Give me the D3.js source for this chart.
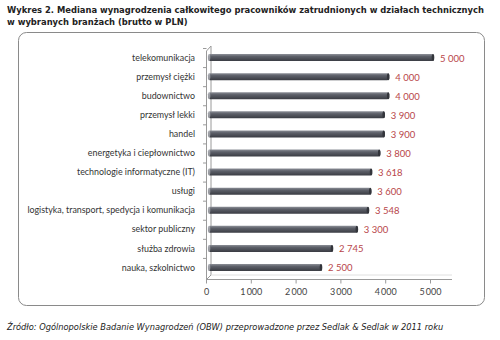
<!DOCTYPE html>
<html><head><meta charset="utf-8">
<script src="https://cdn.jsdelivr.net/npm/d3@7"></script>
<style>body{margin:0;background:#fff}svg{display:block}</style>
</head><body>
<svg id="c" width="500" height="340"></svg>
<script>
const categories = ["telekomunikacja","przemysł ciężki","budownictwo","przemysł lekki","handel","energetyka i ciepłownictwo","technologie informatyczne  (IT)","usługi","logistyka, transport, spedycja i komunikacja","sektor publiczny","służba zdrowia","nauka, szkolnictwo"];
const values = [5000,4000,4000,3900,3900,3800,3618,3600,3548,3300,2745,2500];
const ticks = [0,1000,2000,3000,4000,5000];
const titleLines = ["Wykres 2. Mediana wynagrodzenia całkowitego pracowników zatrudnionych w działach technicznych","w wybranych branżach (brutto w PLN)"];
const source = "Źródło: Ogólnopolskie Badanie Wynagrodzeń (OBW) przeprowadzone przez Sedlak & Sedlak w 2011 roku";

const svg = d3.select("#c");
const fmt = v => d3.format(",")(v).replace(/,/g, "\u2009");
const fmtLbl = v => d3.format(",")(v).replace(/,/g, " ");

// defs
const defs = svg.append("defs");
const g1 = defs.append("linearGradient").attr("id","bar").attr("x1",0).attr("y1",0).attr("x2",0).attr("y2",1);
g1.append("stop").attr("offset","0%").attr("stop-color","#8d9098");
g1.append("stop").attr("offset","35%").attr("stop-color","#5d6069");
g1.append("stop").attr("offset","100%").attr("stop-color","#3a3c43");

// title
function fitText(sel, target){
  const w = sel.node().getComputedTextLength();
  const fs = parseFloat(sel.attr("font-size"));
  sel.attr("font-size", fs*target/w);
}
const t1 = svg.append("text").attr("x",7).attr("y",13).attr("font-family","DejaVu Sans").attr("font-weight","bold").attr("font-size",10).attr("fill","#222").text(titleLines[0]);
fitText(t1, 478);
const fsT = t1.attr("font-size");
svg.append("text").attr("x",7).attr("y",25).attr("font-family","DejaVu Sans").attr("font-weight","bold").attr("font-size",fsT).attr("fill","#222").text(titleLines[1]);

// frame
svg.append("rect").attr("x",18.5).attr("y",32.5).attr("width",466).attr("height",273).attr("rx",8).attr("fill","#fff").attr("stroke","#8a8a8a").attr("stroke-width",1);

// scales
const x = d3.scaleLinear().domain([0,5000]).range([206,430]);
const y = d3.scaleBand().domain(categories).range([48,277]).paddingInner(0);

// 3D wall lines
const wall = svg.append("g").attr("stroke","#9a9a9a").attr("fill","none").attr("stroke-width",1);
wall.append("path").attr("d",`M206.5,279.5 L206.5,51 L211,46 L211,275 L206.5,279.5`);
wall.append("path").attr("d",`M211,275 L452,275`).attr("stroke","#e0e0e0");
y.domain().forEach((c,i)=>{ if(i>0) wall.append("line").attr("x1",203).attr("x2",206.5).attr("y1",y(c)+0.5).attr("y2",y(c)+0.5); });
wall.append("line").attr("x1",203).attr("x2",206.5).attr("y1",48.5).attr("y2",48.5);

// bars
const bh = 7;
const bars = svg.append("g");
categories.forEach((c,i)=>{
  const cy = y(c)+y.bandwidth()/2;
  bars.append("rect").attr("x",x(0)+2).attr("y",cy-bh/2).attr("width",x(values[i])+4-(x(0)+2)).attr("height",bh).attr("rx",2).attr("fill","url(#bar)");
  bars.append("ellipse").attr("cx",x(values[i])+3).attr("cy",cy).attr("rx",1.3).attr("ry",bh/2).attr("fill","#33353b");
  bars.append("ellipse").attr("cx",x(0)+3).attr("cy",cy).attr("rx",1.3).attr("ry",bh/2).attr("fill","#c9cbd0").attr("opacity",0.6);
});

// category labels
const lab = svg.append("g").attr("font-family","Lato").attr("fill","#333").attr("text-anchor","end");
const longest = lab.append("text").attr("font-size",9).text(categories[8]);
fitText(longest, 168);
const fsL = longest.attr("font-size");
longest.remove();
categories.forEach(c=>{
  lab.append("text").attr("x",195).attr("y",y(c)+y.bandwidth()/2+3.2).attr("font-size",fsL).text(c);
});

// value labels
const vl = svg.append("g").attr("font-family","Lato").attr("fill","#b8464a").attr("font-size",9.5);
categories.forEach((c,i)=>{
  vl.append("text").attr("x",x(values[i])+10).attr("y",y(c)+y.bandwidth()/2+4).text(fmtLbl(values[i]));
});

// x axis
const ax = svg.append("g").attr("transform","translate(0,279.5)")
  .call(d3.axisBottom(x).tickValues(ticks).tickFormat(fmt).tickSize(4).tickSizeOuter(0));
ax.select(".domain").attr("d","M206,0H452").attr("stroke","#9a9a9a");
ax.selectAll(".tick line").attr("stroke","#9a9a9a");
ax.selectAll(".tick text").attr("font-family","Lato").attr("font-size",9).attr("fill","#444").attr("dy","0.9em");

// source
const s = svg.append("text").attr("x",7).attr("y",330).attr("font-family","DejaVu Sans").attr("font-style","italic").attr("font-size",8).attr("fill","#222").text(source);
fitText(s, 437);
</script>
</body></html>
